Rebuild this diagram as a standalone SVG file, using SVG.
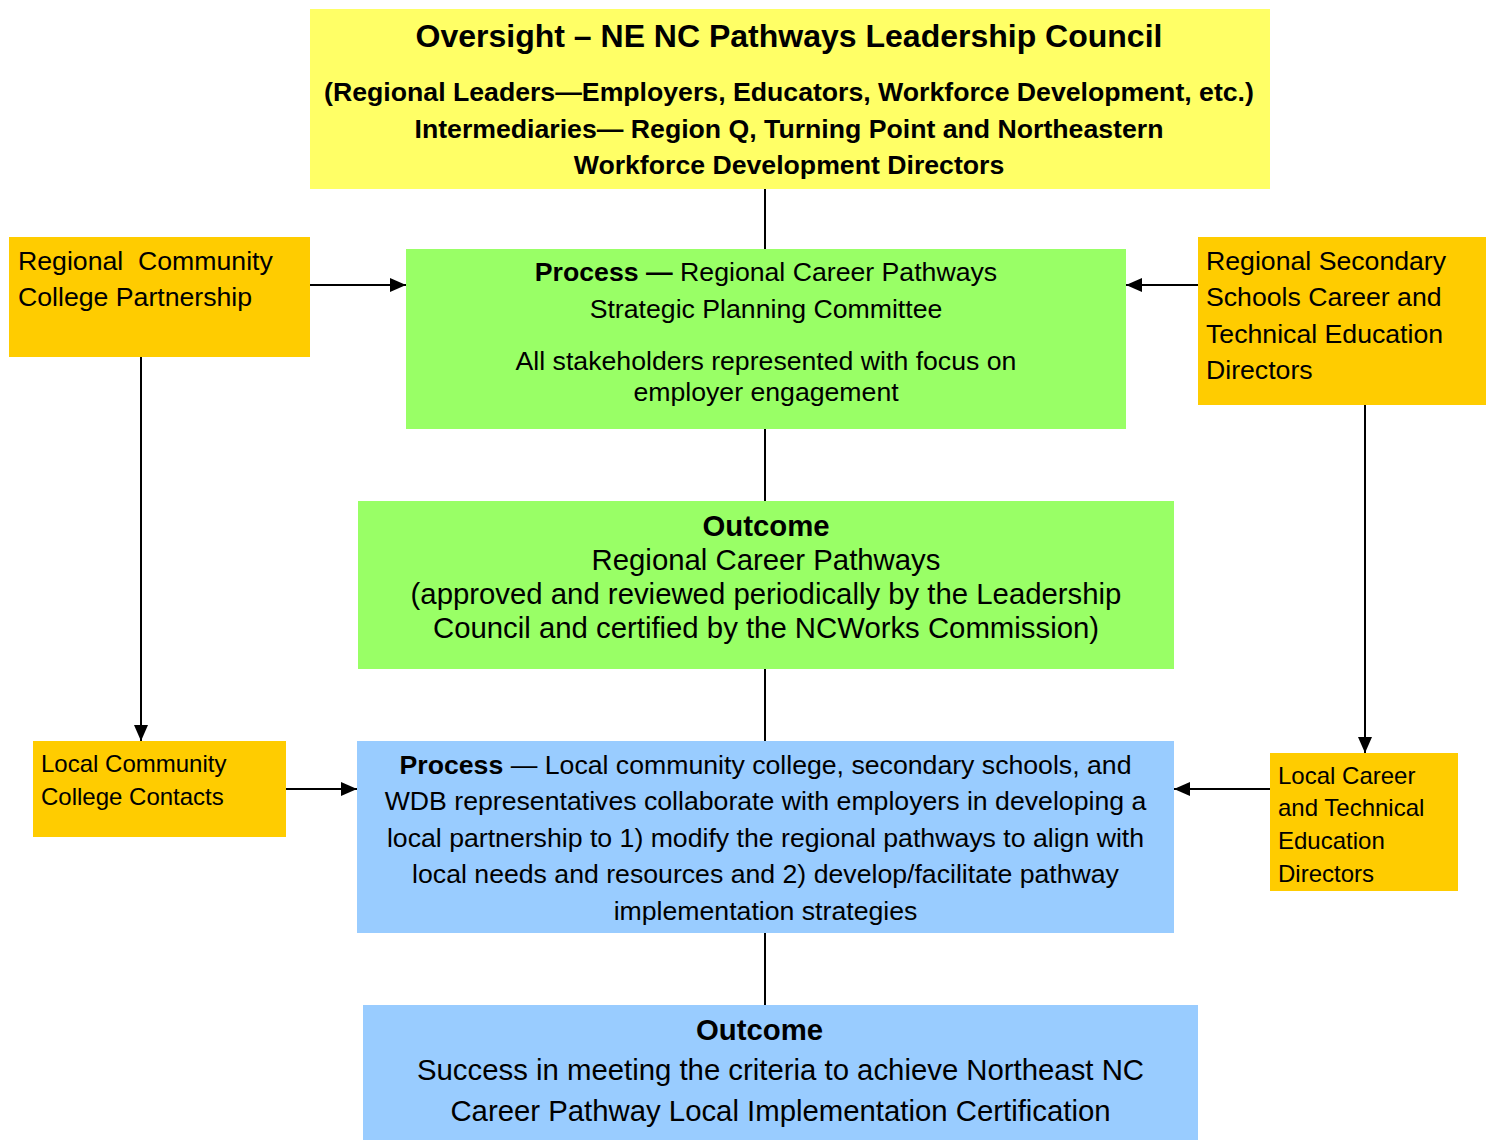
<svg xmlns="http://www.w3.org/2000/svg" width="1488" height="1140" viewBox="0 0 1488 1140">
<defs>
<marker id="ah" markerWidth="16" markerHeight="14" refX="16" refY="7" orient="auto" markerUnits="userSpaceOnUse">
<path d="M0,0 L16,7 L0,14 Z" fill="#000"/>
</marker>
<style>
text{font-family:"Liberation Sans",Arial,sans-serif;fill:#000}
.c{text-anchor:middle}
.b{font-weight:bold}
.t32{font-size:32px}
.t27{font-size:26.67px}
.t29{font-size:29.33px}
.t24{font-size:24px}
.yel{fill:#FFFF66}
.org{fill:#FFCC00}
.grn{fill:#99FF66}
.blu{fill:#99CCFF}
.ln{stroke:#000;stroke-width:2;fill:none}
</style>
</defs>
<rect width="1488" height="1140" fill="#fff"/>
<g id="connectors">
<line class="ln" x1="765" y1="189" x2="765" y2="249"/>
<line class="ln" x1="765" y1="429" x2="765" y2="501"/>
<line class="ln" x1="765" y1="669" x2="765" y2="741"/>
<line class="ln" x1="765" y1="933" x2="765" y2="1005"/>
<line class="ln" x1="310" y1="285" x2="406" y2="285" marker-end="url(#ah)"/>
<line class="ln" x1="1198" y1="285" x2="1126" y2="285" marker-end="url(#ah)"/>
<line class="ln" x1="141" y1="357" x2="141" y2="741" marker-end="url(#ah)"/>
<line class="ln" x1="1365" y1="405" x2="1365" y2="753" marker-end="url(#ah)"/>
<line class="ln" x1="286" y1="789" x2="357" y2="789" marker-end="url(#ah)"/>
<line class="ln" x1="1270" y1="789" x2="1174" y2="789" marker-end="url(#ah)"/>
</g>
<g id="oversight">
<rect class="yel" x="310" y="9" width="960" height="180"/>
<text class="c b t32" x="789" y="47">Oversight – NE NC Pathways Leadership Council</text>
<text class="c b t27" x="789" y="100.5">(Regional Leaders—Employers, Educators, Workforce Development, etc.)</text>
<text class="c b t27" x="789" y="137.5">Intermediaries— Region Q, Turning Point and Northeastern</text>
<text class="c b t27" x="789" y="173.5">Workforce Development Directors</text>
</g>
<g id="regional-cc">
<rect class="org" x="9" y="237" width="301" height="120"/>
<text class="t27" x="18" y="269.5" xml:space="preserve">Regional  Community</text>
<text class="t27" x="18" y="305.5">College Partnership</text>
</g>
<g id="regional-process">
<rect class="grn" x="406" y="249" width="720" height="180"/>
<text class="c t27" x="766" y="280.5"><tspan class="b">Process —</tspan> Regional Career Pathways</text>
<text class="c t27" x="766" y="317.5">Strategic Planning Committee</text>
<text class="c t27" x="766" y="369.5">All stakeholders represented with focus on</text>
<text class="c t27" x="766" y="400.5">employer engagement</text>
</g>
<g id="regional-secondary">
<rect class="org" x="1198" y="237" width="288" height="168"/>
<text class="t27" x="1206" y="269.5">Regional Secondary</text>
<text class="t27" x="1206" y="305.5">Schools Career and</text>
<text class="t27" x="1206" y="342.5">Technical Education</text>
<text class="t27" x="1206" y="378.5">Directors</text>
</g>
<g id="regional-outcome">
<rect class="grn" x="358" y="501" width="816" height="168"/>
<text class="c b t29" x="766" y="535.5">Outcome</text>
<text class="c t29" x="766" y="569.5">Regional Career Pathways</text>
<text class="c t29" x="766" y="603.5">(approved and reviewed periodically by the Leadership</text>
<text class="c t29" x="766" y="637.5">Council and certified by the NCWorks Commission)</text>
</g>
<g id="local-cc">
<rect class="org" x="33" y="741" width="253" height="96"/>
<text class="t24" x="41" y="771.5">Local Community</text>
<text class="t24" x="41" y="804.5">College Contacts</text>
</g>
<g id="local-process">
<rect class="blu" x="357" y="741" width="817" height="192"/>
<text class="c t27" x="765.5" y="773.5"><tspan class="b">Process</tspan> — Local community college, secondary schools, and</text>
<text class="c t27" x="765.5" y="809.5">WDB representatives collaborate with employers in developing a</text>
<text class="c t27" x="765.5" y="846.5">local partnership to 1) modify the regional pathways to align with</text>
<text class="c t27" x="765.5" y="882.5">local needs and resources and 2) develop/facilitate pathway</text>
<text class="c t27" x="765.5" y="919.5">implementation strategies</text>
</g>
<g id="local-cte">
<rect class="org" x="1270" y="753" width="188" height="138"/>
<text class="t24" x="1278" y="783.5">Local Career</text>
<text class="t24" x="1278" y="815.5">and Technical</text>
<text class="t24" x="1278" y="848.5">Education</text>
<text class="t24" x="1278" y="881.5">Directors</text>
</g>
<g id="local-outcome">
<rect class="blu" x="363" y="1005" width="835" height="135"/>
<text class="c b t29" x="759.5" y="1039.5">Outcome</text>
<text class="c t29" x="780.5" y="1079.5">Success in meeting the criteria to achieve Northeast NC</text>
<text class="c t29" x="780.5" y="1120.5">Career Pathway Local Implementation Certification</text>
</g>
</svg>
